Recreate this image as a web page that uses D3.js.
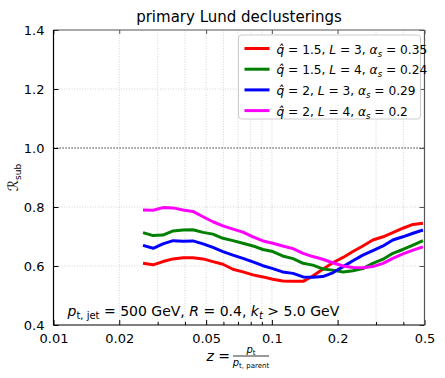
<!DOCTYPE html>
<html>
<head>
<meta charset="utf-8">
<script src="https://cdn.jsdelivr.net/npm/d3@7"></script>
<style>
  body { margin: 0; background: #fff; }
  svg text { font-family: "DejaVu Sans", sans-serif; }
</style>
</head>
<body>
<div id="chart"></div>
<script>
// z bin centres (shared by all curves)
const zBins = [0.0257, 0.0286, 0.0317, 0.0353, 0.0392, 0.0435, 0.0484, 0.0537, 0.0597, 0.0663,
  0.0737, 0.0819, 0.0910, 0.101, 0.112, 0.125, 0.139, 0.154, 0.171, 0.190,
  0.212, 0.235, 0.261, 0.290, 0.323, 0.358, 0.398, 0.443, 0.492]

const redVals = [0.609, 0.604, 0.615, 0.624, 0.628, 0.628, 0.624, 0.615, 0.606, 0.589,
  0.580, 0.570, 0.563, 0.555, 0.549, 0.548, 0.548, 0.566, 0.589, 0.611,
  0.629, 0.649, 0.668, 0.688, 0.699, 0.713, 0.728, 0.741, 0.745]
const greenVals = [0.713, 0.703, 0.705, 0.719, 0.722, 0.723, 0.714, 0.708, 0.694, 0.686,
  0.677, 0.668, 0.656, 0.649, 0.634, 0.625, 0.609, 0.603, 0.590, 0.586,
  0.580, 0.584, 0.591, 0.609, 0.623, 0.643, 0.656, 0.671, 0.686]
const blueVals = [0.670, 0.660, 0.675, 0.686, 0.684, 0.685, 0.675, 0.663, 0.649, 0.637,
  0.626, 0.614, 0.601, 0.591, 0.580, 0.575, 0.563, 0.562, 0.564, 0.577,
  0.598, 0.618, 0.637, 0.652, 0.668, 0.688, 0.699, 0.711, 0.722]
const magentaVals = [0.790, 0.789, 0.798, 0.797, 0.790, 0.785, 0.767, 0.750, 0.736, 0.725,
  0.715, 0.699, 0.685, 0.677, 0.668, 0.659, 0.643, 0.632, 0.623, 0.611,
  0.600, 0.595, 0.594, 0.598, 0.609, 0.626, 0.641, 0.654, 0.665]

const xTicks = [0.01, 0.02, 0.05, 0.1, 0.2, 0.5]
const xMinor = [0.03, 0.04, 0.06, 0.07, 0.08, 0.09, 0.3, 0.4]
const yTicks = [0.4, 0.6, 0.8, 1.0, 1.2, 1.4]

const series = [
  {color: '#ff0000', vals: redVals, q: '1.5', L: '3', a: '0.35'},
  {color: '#008000', vals: greenVals, q: '1.5', L: '4', a: '0.24'},
  {color: '#0000ff', vals: blueVals, q: '2', L: '3', a: '0.29'},
  {color: '#ff00ff', vals: magentaVals, q: '2', L: '4', a: '0.2'}
]

const W = 445, H = 378
const m = {top: 30, right: 20.5, bottom: 53, left: 53.5}
const w = W - m.left - m.right
const h = H - m.top - m.bottom

const svg = d3.select('#chart').append('svg')
  .attr('width', W)
  .attr('height', H)

const g = svg.append('g').attr('transform', `translate(${m.left},${m.top})`)

const x = d3.scaleLog().domain([0.01, 0.5]).range([0, w])
const y = d3.scaleLinear().domain([0.4, 1.4]).range([h, 0])

// grid
g.append('g').selectAll('line')
  .data(xTicks.concat(xMinor).filter(d => d > 0.01 && d < 0.5))
  .join('line')
  .attr('x1', d => x(d)).attr('x2', d => x(d))
  .attr('y1', 0).attr('y2', h)
  .attr('stroke', '#c8c8c8').attr('stroke-width', 0.8)
  .attr('stroke-dasharray', '1,1.6')

g.append('g').selectAll('line')
  .data(yTicks.filter(d => d > 0.4 && d < 1.4 && d !== 1.0))
  .join('line')
  .attr('x1', 0).attr('x2', w)
  .attr('y1', d => y(d)).attr('y2', d => y(d))
  .attr('stroke', '#c8c8c8').attr('stroke-width', 0.8)
  .attr('stroke-dasharray', '1,1.6')

g.append('line')
  .attr('x1', 0).attr('x2', w)
  .attr('y1', y(1.0)).attr('y2', y(1.0))
  .attr('stroke', '#000').attr('stroke-width', 1.2)
  .attr('stroke-dasharray', '1.2,1.8')

// curves
const line = d3.line()
  .x((d, i) => x(zBins[i]))
  .y(d => y(d))

g.append('g').selectAll('path')
  .data(series)
  .join('path')
  .attr('d', d => line(d.vals))
  .attr('fill', 'none')
  .attr('stroke', d => d.color)
  .attr('stroke-width', 3)
  .attr('stroke-linejoin', 'round')

// axes (inward ticks)
const tickFmt = d => d3.format('.1f')(d)
g.append('g')
  .attr('transform', `translate(0,${h})`)
  .call(d3.axisBottom(x).tickValues(xTicks).tickFormat(d => String(d)).tickSizeInner(-5).tickSizeOuter(0).tickPadding(9))
  .call(a => a.select('.domain').remove())
  .call(a => a.selectAll('text').attr('font-size', 13).attr('fill', '#000'))
g.append('g')
  .attr('transform', `translate(0,${h})`)
  .call(d3.axisBottom(x).tickValues(xMinor).tickFormat('').tickSizeInner(-3).tickSizeOuter(0))
  .call(a => a.select('.domain').remove())
g.append('g')
  .call(d3.axisTop(x).tickValues(xTicks).tickFormat('').tickSizeInner(-4).tickSizeOuter(0))
  .call(a => a.select('.domain').remove())
  .call(a => a.selectAll('line').attr('stroke', '#555'))
g.append('g')
  .call(d3.axisLeft(y).tickValues(yTicks).tickFormat(tickFmt).tickSizeInner(-5).tickSizeOuter(0).tickPadding(9))
  .call(a => a.select('.domain').remove())
  .call(a => a.selectAll('text').attr('font-size', 13).attr('fill', '#000'))
g.append('g')
  .attr('transform', `translate(${w},0)`)
  .call(d3.axisRight(y).tickValues(yTicks).tickFormat('').tickSizeInner(-5).tickSizeOuter(0))
  .call(a => a.select('.domain').remove())
  .call(a => a.selectAll('line').attr('stroke', '#555'))

// frame
g.append('line').attr('x1', 0).attr('x2', w).attr('y1', 0).attr('y2', 0).attr('stroke', '#555').attr('stroke-width', 1.2)
g.append('line').attr('x1', w).attr('x2', w).attr('y1', 0).attr('y2', h).attr('stroke', '#555').attr('stroke-width', 1.2)
g.append('line').attr('x1', 0).attr('x2', 0).attr('y1', 0).attr('y2', h).attr('stroke', '#000').attr('stroke-width', 1.2)
g.append('line').attr('x1', 0).attr('x2', w).attr('y1', h).attr('y2', h).attr('stroke', '#000').attr('stroke-width', 1.2)

// title
svg.append('text')
  .attr('x', m.left + w / 2).attr('y', 22)
  .attr('text-anchor', 'middle')
  .attr('font-size', 15)
  .text('primary Lund declusterings')

// legend
const lg = g.append('g').attr('transform', `translate(${w - 186},5)`)
lg.append('rect')
  .attr('x', 0).attr('y', 0).attr('width', 182).attr('height', 84)
  .attr('rx', 3)
  .attr('fill', '#fff').attr('fill-opacity', 0.85)
  .attr('stroke', '#ccc')
const rows = lg.selectAll('g.row').data(series).join('g')
  .attr('class', 'row')
  .attr('transform', (d, i) => `translate(0,${13.5 + i * 20.7})`)
rows.append('line')
  .attr('x1', 6).attr('x2', 31)
  .attr('stroke', d => d.color).attr('stroke-width', 3)
rows.each(function (d) {
  const t = d3.select(this).append('text')
    .attr('x', 38).attr('y', 5)
    .attr('font-size', 12.2)
  t.append('tspan').attr('font-style', 'italic').text('q\u0302')
  t.append('tspan').text(` = ${d.q}, `)
  t.append('tspan').attr('font-style', 'italic').text('L')
  t.append('tspan').text(` = ${d.L}, `)
  t.append('tspan').attr('font-style', 'italic').text('\u03b1')
  t.append('tspan').attr('font-style', 'italic').attr('font-size', 8.5).attr('dy', 3).text('s')
  t.append('tspan').attr('dy', -3).text(` = ${d.a}`)
})

// annotation
const ann = g.append('text')
  .attr('x', 14).attr('y', h - 9)
  .attr('font-size', 14)
ann.append('tspan').attr('font-style', 'italic').text('p')
ann.append('tspan').attr('font-size', 10).attr('dy', 3).text('t, jet')
ann.append('tspan').attr('dy', -3).text(' = 500 GeV, ')
ann.append('tspan').attr('font-style', 'italic').text('R')
ann.append('tspan').text(' = 0.4, ')
ann.append('tspan').attr('font-style', 'italic').text('k')
ann.append('tspan').attr('font-style', 'italic').attr('font-size', 10).attr('dy', 3).text('t')
ann.append('tspan').attr('dy', -3).text(' > 5.0 GeV')

// x label
const xl = svg.append('g').attr('transform', `translate(${m.left + w / 2},356)`)
const xz = xl.append('text').attr('x', -9).attr('y', 5).attr('text-anchor', 'end').attr('font-size', 14)
xz.append('tspan').attr('font-style', 'italic').text('z')
xz.append('tspan').text(' =')
xl.append('line').attr('x1', -6).attr('x2', 30).attr('y1', 0).attr('y2', 0).attr('stroke', '#000').attr('stroke-width', 0.8)
const num = xl.append('text').attr('x', 12).attr('y', -3).attr('text-anchor', 'middle').attr('font-size', 10)
num.append('tspan').attr('font-style', 'italic').text('p')
num.append('tspan').attr('font-size', 7).attr('dy', 2).text('t')
const den = xl.append('text').attr('x', 12).attr('y', 10).attr('text-anchor', 'middle').attr('font-size', 10)
den.append('tspan').attr('font-style', 'italic').text('p')
den.append('tspan').attr('font-size', 7).attr('dy', 2).text('t, parent')

// y label
const yl = svg.append('text')
  .attr('transform', `translate(18,${m.top + h / 2}) rotate(-90)`)
  .attr('text-anchor', 'middle')
  .attr('font-size', 14)
yl.append('tspan').attr('font-style', 'italic').text('\u211b')
yl.append('tspan').attr('font-size', 9).attr('dy', 3).text('sub')
</script>
</body>
</html>
